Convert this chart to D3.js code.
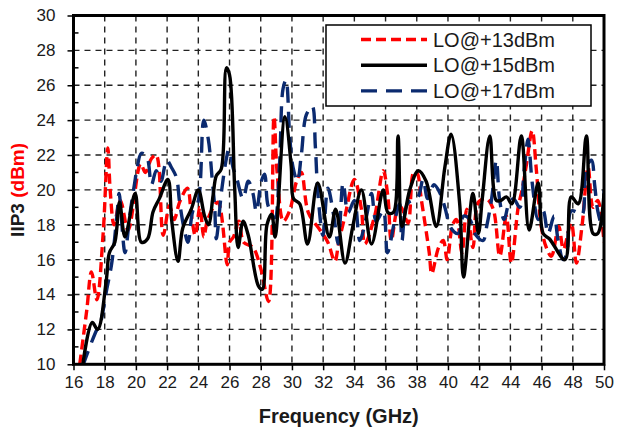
<!DOCTYPE html>
<html>
<head>
<meta charset="utf-8">
<script src="https://cdn.jsdelivr.net/npm/d3@7/dist/d3.min.js"></script>
<style>
  html, body { margin: 0; padding: 0; background: #fff; }
  svg { display: block; }
  text { font-family: "Liberation Sans", Arial, sans-serif; fill: #1a1a1a; }
</style>
</head>
<body>
<svg id="chart" width="617" height="430"></svg>
<script>
// IIP3 versus frequency for three LO drive levels

const xTicks = [16,18,20,22,24,26,28,30,32,34,36,38,40,42,44,46,48,50];
const yTicks = [10,12,14,16,18,20,22,24,26,28,30];
const seriesNames = ["LO@+13dBm", "LO@+15dBm", "LO@+17dBm"];

// LO @ +13 dBm
const freq13 = [16.4,16.85,17.15,17.5,17.9,18.2,18.35,18.6,19.0,19.5,20.3,20.6,21.0,21.3,21.75,22.15,22.45,22.8,23.3,23.55,23.8,24.1,24.35,24.6,25.25,25.85,26.0,26.25,26.6,26.9,27.5,28.0,28.5,28.85,29.05,29.45,29.85,30.3,30.6,31.05,31.8,32.3,32.75,33.0,33.4,34.0,34.45,34.67,35.3,35.85,36.15,36.37,36.8,37.0,37.44,37.8,38.0,38.3,38.8,38.96,39.4,39.7,39.95,40.3,40.55,40.9,41.2,41.6,41.95,42.45,42.9,43.32,43.74,44.06,44.5,44.75,45.0,45.4,45.65,45.98,46.3,46.63,47.1,47.4,47.9,48.23,48.6,48.98,49.3,49.6,50.0];
const iip13  = [10.0,13.1,15.3,13.7,17.5,22.4,20.0,18.0,19.4,17.7,21.5,21.0,21.8,22.0,17.4,19.1,18.3,19.3,20.1,18.6,17.4,19.0,17.3,18.3,19.3,15.7,17.0,17.3,18.2,17.0,16.7,15.5,13.6,24.2,21.0,18.2,18.8,20.5,21.0,18.7,17.7,17.0,15.9,17.0,18.5,20.6,18.9,16.9,18.5,21.1,19.6,17.1,19.0,19.0,18.1,21.0,21.0,19.4,16.4,15.2,16.7,17.1,16.0,18.0,18.3,16.4,18.9,16.7,19.3,19.5,18.9,16.2,18.5,15.8,19.0,20.0,21.3,23.4,21.3,17.9,16.7,16.2,17.9,16.6,18.1,15.8,18.0,21.3,19.0,19.4,17.0];

// LO @ +15 dBm
const freq15 = [16.6,17.2,17.55,18.1,18.3,18.65,18.95,19.3,19.95,20.35,20.75,21.1,21.5,22.05,22.3,22.7,23.0,23.55,24.0,24.4,24.65,24.95,25.15,25.47,25.8,26.0,26.33,26.55,26.87,27.2,27.85,28.1,28.4,28.7,28.92,29.55,29.95,30.1,30.5,31.0,31.65,32.4,32.8,33.4,33.9,34.45,35.1,35.85,36.15,36.5,36.8,37.05,37.55,38.1,38.6,39.25,39.8,40.2,40.75,41.0,41.6,41.95,42.2,42.68,43.1,43.4,43.75,44.1,44.7,45.2,45.78,46.1,46.5,47.5,47.9,48.35,48.87,49.3,49.6,50.0];
const iip15  = [10.0,12.4,12.0,14.8,16.4,17.0,19.3,17.3,19.8,17.0,17.2,18.75,19.5,20.6,18.2,15.9,17.8,18.9,20.0,18.5,18.0,19.7,20.8,21.2,27.0,26.6,20.1,16.7,18.2,17.4,14.5,14.3,18.0,18.6,17.3,24.2,21.4,19.5,19.2,16.9,20.4,17.3,18.9,15.8,17.9,20.0,16.9,20.0,18.7,18.7,23.1,17.9,20.0,21.1,20.5,17.9,21.3,23.2,19.2,15.0,19.8,17.5,19.5,23.1,19.4,19.4,19.6,19.2,23.1,17.7,20.4,17.5,17.2,16.0,19.6,19.2,23.1,17.5,17.5,19.8];

// LO @ +17 dBm
const freq17 = [16.6,16.75,17.5,17.7,18.13,18.45,18.8,18.92,19.3,19.6,19.92,20.05,20.35,20.7,21.0,21.3,21.6,21.98,22.27,22.6,22.8,23.13,23.34,23.65,23.98,24.35,24.64,24.9,25.05,25.15,25.5,25.8,25.95,26.25,26.45,26.87,27.2,27.5,27.72,28.04,28.25,28.47,28.9,29.2,29.43,29.62,29.86,30.07,30.35,30.6,30.92,31.3,31.5,31.67,31.99,32.3,32.7,32.96,33.28,33.6,34.0,34.35,34.78,35.1,35.4,35.85,36.12,36.6,36.9,37.05,37.4,38.08,38.4,38.7,39.1,39.5,39.8,40.2,40.65,41.0,41.4,41.8,42.25,42.5,42.8,43.1,43.3,43.6,43.9,44.2,44.6,44.9,45.13,45.4,45.78,46.1,46.42,46.8,47.06,47.38,47.6,47.9,48.3,48.6,48.87,49.2,49.4,49.6,49.9,50.0];
const iip17  = [9.9,10.3,12.0,12.3,14.3,15.8,18.7,19.8,16.4,18.5,20.4,21.1,22.1,21.9,20.3,21.1,20.5,21.7,21.3,20.7,19.3,17.6,17.0,18.8,19.3,24.0,22.9,20.5,19.0,17.2,20.0,21.8,22.3,21.2,20.7,19.5,20.5,19.8,18.75,20.5,20.9,19.1,18.4,21.4,25.8,26.3,23.0,21.3,20.5,22.0,24.3,24.8,22.5,19.7,17.4,20.1,18.4,16.9,20.4,18.7,19.4,17.1,18.5,19.8,18.2,18.8,16.4,18.3,19.2,17.1,19.2,19.6,20.6,19.5,20.3,19.8,19.0,17.8,17.5,18.5,18.3,17.4,17.1,18.0,19.5,21.7,19.5,18.3,19.2,19.5,19.0,21.3,22.9,20.4,18.3,18.8,17.5,18.5,17.1,16.0,16.3,18.8,18.7,18.6,21.3,21.7,20.3,18.8,17.9,20.0];

const svg = d3.select("#chart");
const plotL = 73.5, plotR = 604, plotT = 15.5, plotB = 364.3;

const x = d3.scaleLinear().domain([16, 50]).range([plotL, plotR]);
const y = d3.scaleLinear().domain([10, 30]).range([plotB, plotT]);

// dashed grid
const grid = svg.append("g");
grid.selectAll("line.v").data(xTicks.slice(1, -1)).join("line")
  .attr("x1", d => x(d)).attr("x2", d => x(d))
  .attr("y1", plotT).attr("y2", plotB)
  .attr("stroke", "#222").attr("stroke-width", 1.4).attr("stroke-dasharray", "6,5");
grid.selectAll("line.h").data(yTicks.slice(1, -1)).join("line")
  .attr("x1", plotL).attr("x2", plotR)
  .attr("y1", d => y(d)).attr("y2", d => y(d))
  .attr("stroke", "#222").attr("stroke-width", 1.4).attr("stroke-dasharray", "6,5");

// axes
const xAxis = d3.axisBottom(x).tickValues(xTicks).tickSize(6).tickPadding(6).tickFormat(d3.format("d"));
const yAxis = d3.axisLeft(y).tickValues(yTicks).tickSize(6).tickPadding(12).tickFormat(d3.format("d"));

const gx = svg.append("g").attr("transform", `translate(0,${plotB})`).call(xAxis);
const gy = svg.append("g").attr("transform", `translate(${plotL},0)`).call(yAxis);
[gx, gy].forEach(g => {
  g.select(".domain").remove();
  g.selectAll(".tick line").attr("stroke", "#000").attr("stroke-width", 1.5);
  g.selectAll(".tick text").attr("font-size", 17).attr("fill", "#1a1a1a")
    .attr("font-family", "Liberation Sans, Arial, sans-serif");
});

// minor y ticks pointing into the plot
const minorY = d3.range(11, 30, 2);
svg.append("g").selectAll("line").data(minorY).join("line")
  .attr("x1", plotL).attr("x2", plotL + 5)
  .attr("y1", d => y(d)).attr("y2", d => y(d))
  .attr("stroke", "#000").attr("stroke-width", 1.5);

// series
svg.append("defs").append("clipPath").attr("id", "plotClip")
  .append("rect").attr("x", plotL).attr("y", plotT).attr("width", plotR - plotL).attr("height", plotB - plotT);

const line = d3.line().x(d => x(d[0])).y(d => y(d[1])).curve(d3.curveCatmullRom.alpha(0.5));
const series = [
  { name: seriesNames[0], f: freq13, v: iip13, color: "#ff0000", dash: "10,5" },
  { name: seriesNames[2], f: freq17, v: iip17, color: "#0b2a6f", dash: "16,9" },
  { name: seriesNames[1], f: freq15, v: iip15, color: "#000000", dash: null }
];
const plot = svg.append("g").attr("clip-path", "url(#plotClip)");
series.forEach(s => {
  plot.append("path")
    .datum(d3.zip(s.f, s.v))
    .attr("d", line)
    .attr("fill", "none")
    .attr("stroke", s.color)
    .attr("stroke-width", 3.4)
    .attr("stroke-linejoin", "round")
    .attr("stroke-dasharray", s.dash);
});

// plot frame
svg.append("rect")
  .attr("x", plotL).attr("y", plotT).attr("width", plotR - plotL).attr("height", plotB - plotT)
  .attr("fill", "none").attr("stroke", "#000").attr("stroke-width", 3);

// legend
const legend = svg.append("g");
legend.append("rect").attr("x", 326).attr("y", 25).attr("width", 265).attr("height", 81)
  .attr("fill", "#fff").attr("stroke", "#000").attr("stroke-width", 1.5);
const legendOrder = [series[0], series[2], series[1]];
legendOrder.forEach((s, i) => {
  const cy = 39.5 + i * 25.7;
  legend.append("line").attr("x1", 361).attr("x2", 427).attr("y1", cy).attr("y2", cy)
    .attr("stroke", s.color).attr("stroke-width", 3.4).attr("stroke-dasharray", s.dash);
  legend.append("text").attr("x", 433).attr("y", cy + 7).attr("font-size", 20).text(s.name);
});

// axis titles
svg.append("text").attr("x", (plotL + plotR) / 2).attr("y", 423)
  .attr("text-anchor", "middle").attr("font-size", 20).attr("font-weight", "bold")
  .text("Frequency (GHz)");

const yTitle = svg.append("text")
  .attr("transform", `translate(24,${(plotT + plotB) / 2}) rotate(-90)`)
  .attr("text-anchor", "middle").attr("font-size", 19).attr("font-weight", "bold");
yTitle.append("tspan").text("IIP3 ");
yTitle.append("tspan").attr("fill", "#ff0000").style("fill", "#ff0000").text("(dBm)");
</script>
</body>
</html>
